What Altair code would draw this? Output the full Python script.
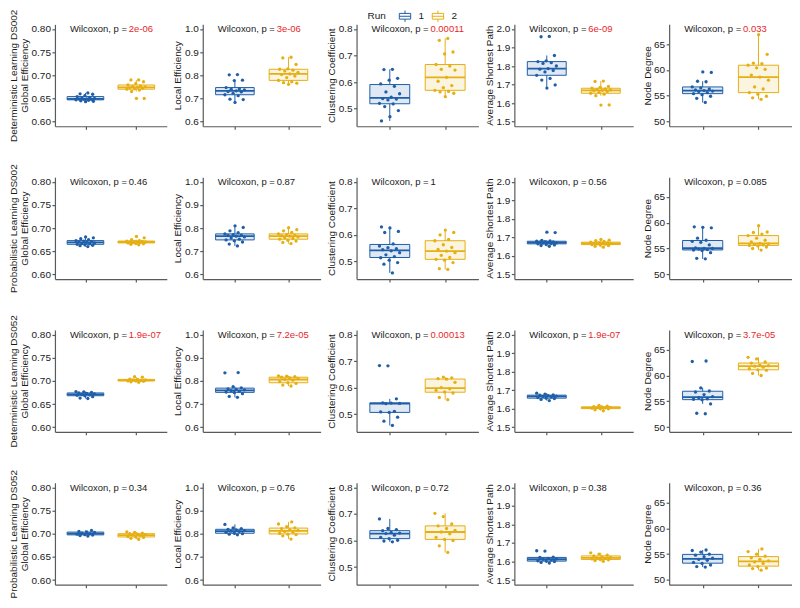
import altair as alt
import pandas as pd

ROWS = ["Deterministic Learning DS002", "Probabilistic Learning DS002",
        "Deterministic Learning DS052", "Probabilistic Learning DS052"]
METRICS = ["Global Efficiency", "Local Efficiency", "Clustering Coefficient",
           "Average Shortest Path", "Node Degree"]
RUNS = ["1", "2"]
COLORS = ["#1F5FA9", "#E6AF14"]
RED = "#E8262A"

# y-axis settings per metric
Y_DOMAINS = [[0.59, 0.81], [0.58, 1.02], [0.434, 0.817], [1.475, 2.025], [49.1, 68.8]]
Y_TICKS = [[0.60, 0.65, 0.70, 0.75, 0.80], [0.6, 0.7, 0.8, 0.9, 1.0],
           [0.5, 0.6, 0.7, 0.8], [1.5, 1.6, 1.7, 1.8, 1.9, 2.0], [50, 55, 60, 65]]
Y_FORMATS = [".2f", ".1f", ".1f", ".1f", "d"]

# ---- Deterministic Learning DS002 ----
det002_ge_1 = [0.662, 0.660, 0.659, 0.656, 0.654, 0.652, 0.651, 0.650, 0.649, 0.649, 0.648, 0.648, 0.647, 0.646, 0.645, 0.644, 0.643]
det002_ge_2 = [0.690, 0.690, 0.686, 0.682, 0.679, 0.677, 0.676, 0.675, 0.674, 0.673, 0.672, 0.671, 0.670, 0.668, 0.665, 0.650, 0.650]
det002_le_1 = [0.803, 0.802, 0.779, 0.777, 0.747, 0.742, 0.740, 0.737, 0.733, 0.730, 0.728, 0.722, 0.716, 0.712, 0.697, 0.695, 0.683]
det002_le_2 = [0.878, 0.875, 0.847, 0.828, 0.826, 0.822, 0.818, 0.812, 0.806, 0.803, 0.797, 0.790, 0.778, 0.772, 0.768, 0.766, 0.761]
det002_cc_1 = [0.648, 0.647, 0.614, 0.607, 0.593, 0.584, 0.563, 0.556, 0.543, 0.538, 0.536, 0.533, 0.520, 0.518, 0.508, 0.493, 0.470, 0.454]
det002_cc_2 = [0.764, 0.757, 0.713, 0.706, 0.666, 0.660, 0.648, 0.645, 0.618, 0.603, 0.587, 0.579, 0.569, 0.565, 0.563, 0.558, 0.545]
det002_asp_1 = [1.960, 1.958, 1.857, 1.828, 1.824, 1.818, 1.814, 1.800, 1.786, 1.783, 1.776, 1.768, 1.750, 1.733, 1.724, 1.698, 1.681]
det002_asp_2 = [1.719, 1.717, 1.690, 1.685, 1.680, 1.676, 1.674, 1.671, 1.669, 1.667, 1.663, 1.658, 1.653, 1.648, 1.640, 1.590, 1.589]
det002_nd_1 = [53.7, 54.5, 54.9, 55.2, 55.4, 55.6, 55.8, 55.9, 56.0, 56.1, 56.3, 56.5, 56.7, 57.7, 57.8, 59.5, 59.6]
det002_nd_2 = [54.3, 54.6, 54.9, 55.3, 55.6, 56.3, 56.7, 58.0, 58.6, 59.0, 60.1, 60.4, 60.9, 61.2, 61.3, 63.0, 66.8]
det002_p = ["2e-06", "3e-06", "0.00011", "6e-09", "0.033"]

# ---- Probabilistic Learning DS002 ----
prob002_ge_1 = [0.660, 0.662, 0.663, 0.664, 0.665, 0.666, 0.667, 0.668, 0.669, 0.670, 0.671, 0.672, 0.673, 0.675, 0.677, 0.679, 0.681]
prob002_ge_2 = [0.664, 0.665, 0.666, 0.667, 0.668, 0.669, 0.669, 0.670, 0.670, 0.670, 0.671, 0.671, 0.672, 0.673, 0.675, 0.679, 0.682]
prob002_le_1 = [0.723, 0.731, 0.740, 0.745, 0.749, 0.752, 0.757, 0.762, 0.765, 0.768, 0.770, 0.772, 0.775, 0.780, 0.788, 0.803, 0.810]
prob002_le_2 = [0.733, 0.738, 0.744, 0.748, 0.752, 0.755, 0.758, 0.762, 0.765, 0.767, 0.769, 0.772, 0.775, 0.781, 0.788, 0.793, 0.802]
prob002_cc_1 = [0.457, 0.490, 0.496, 0.505, 0.514, 0.518, 0.525, 0.533, 0.540, 0.544, 0.548, 0.552, 0.558, 0.566, 0.609, 0.613, 0.626, 0.630]
prob002_cc_2 = [0.470, 0.473, 0.496, 0.505, 0.508, 0.515, 0.523, 0.533, 0.539, 0.545, 0.553, 0.563, 0.578, 0.583, 0.600, 0.609, 0.618]
prob002_asp_1 = [1.652, 1.656, 1.659, 1.662, 1.665, 1.667, 1.669, 1.670, 1.672, 1.674, 1.675, 1.677, 1.679, 1.681, 1.684, 1.726, 1.728]
prob002_asp_2 = [1.647, 1.652, 1.656, 1.659, 1.661, 1.663, 1.665, 1.666, 1.667, 1.668, 1.670, 1.672, 1.674, 1.678, 1.682, 1.685, 1.689]
prob002_nd_1 = [53.0, 53.1, 54.2, 54.6, 54.7, 54.8, 54.9, 55.0, 55.0, 55.1, 55.7, 56.2, 56.4, 56.6, 57.0, 59.0, 59.1, 59.2]
prob002_nd_2 = [54.7, 55.0, 55.3, 55.5, 55.6, 55.7, 55.8, 55.9, 56.0, 56.3, 56.6, 57.0, 57.5, 57.8, 58.1, 58.2, 59.4]
prob002_p = ["0.46", "0.87", "1", "0.56", "0.085"]

# ---- Deterministic Learning DS052 ----
det052_ge_1 = [0.662, 0.663, 0.666, 0.668, 0.669, 0.670, 0.671, 0.672, 0.673, 0.674, 0.675, 0.676, 0.677]
det052_ge_2 = [0.697, 0.698, 0.699, 0.700, 0.700, 0.701, 0.702, 0.702, 0.703, 0.704, 0.708, 0.709]
det052_le_1 = [0.729, 0.733, 0.745, 0.750, 0.752, 0.755, 0.758, 0.761, 0.763, 0.765, 0.770, 0.775, 0.835, 0.836]
det052_le_2 = [0.778, 0.782, 0.789, 0.792, 0.797, 0.803, 0.806, 0.810, 0.813, 0.816, 0.818, 0.820, 0.822]
det052_cc_1 = [0.458, 0.474, 0.489, 0.507, 0.509, 0.511, 0.540, 0.541, 0.542, 0.543, 0.558, 0.682, 0.683]
det052_cc_2 = [0.555, 0.563, 0.580, 0.584, 0.590, 0.596, 0.600, 0.620, 0.632, 0.634, 0.637, 0.640]
det052_asp_1 = [1.644, 1.650, 1.655, 1.657, 1.660, 1.663, 1.666, 1.668, 1.670, 1.673, 1.675, 1.679, 1.684]
det052_asp_2 = [1.589, 1.594, 1.599, 1.601, 1.603, 1.605, 1.606, 1.607, 1.609, 1.611, 1.614, 1.618]
det052_nd_1 = [52.6, 52.7, 54.5, 55.3, 55.4, 55.5, 55.7, 55.9, 56.3, 56.8, 57.0, 57.6, 62.7, 62.8]
det052_nd_2 = [60.0, 60.4, 61.0, 61.1, 61.3, 61.6, 61.8, 61.9, 62.0, 62.4, 62.6, 63.2, 63.5]
det052_p = ["1.9e-07", "7.2e-05", "0.00013", "1.9e-07", "3.7e-05"]

# ---- Probabilistic Learning DS052 ----
prob052_ge_1 = [0.695, 0.696, 0.697, 0.698, 0.699, 0.700, 0.701, 0.703, 0.704, 0.705, 0.707]
prob052_ge_2 = [0.688, 0.690, 0.692, 0.693, 0.694, 0.696, 0.697, 0.698, 0.699, 0.700, 0.701, 0.703, 0.704]
prob052_le_1 = [0.795, 0.798, 0.800, 0.802, 0.806, 0.809, 0.811, 0.813, 0.816, 0.819, 0.822, 0.825, 0.840]
prob052_le_2 = [0.777, 0.791, 0.796, 0.798, 0.802, 0.806, 0.810, 0.814, 0.818, 0.822, 0.825, 0.830, 0.842, 0.851]
prob052_cc_1 = [0.595, 0.598, 0.601, 0.607, 0.612, 0.620, 0.626, 0.628, 0.630, 0.637, 0.641, 0.645, 0.681]
prob052_cc_2 = [0.555, 0.580, 0.600, 0.604, 0.612, 0.625, 0.632, 0.638, 0.645, 0.655, 0.662, 0.690, 0.702]
prob052_asp_1 = [1.592, 1.595, 1.600, 1.602, 1.604, 1.608, 1.612, 1.614, 1.616, 1.622, 1.624, 1.656, 1.658]
prob052_asp_2 = [1.601, 1.605, 1.609, 1.611, 1.614, 1.617, 1.620, 1.622, 1.625, 1.630, 1.634, 1.640, 1.647]
prob052_nd_1 = [52.5, 52.6, 52.9, 53.2, 53.4, 53.8, 54.0, 54.2, 54.5, 54.8, 55.0, 55.4, 55.7, 55.8]
prob052_nd_2 = [51.9, 52.2, 52.3, 52.6, 52.9, 53.2, 53.5, 53.7, 54.0, 54.3, 54.6, 55.0, 55.5, 56.0]
prob052_p = ["0.34", "0.76", "0.72", "0.38", "0.36"]

SERIES = [
    [(det002_ge_1, det002_ge_2), (det002_le_1, det002_le_2), (det002_cc_1, det002_cc_2),
     (det002_asp_1, det002_asp_2), (det002_nd_1, det002_nd_2)],
    [(prob002_ge_1, prob002_ge_2), (prob002_le_1, prob002_le_2), (prob002_cc_1, prob002_cc_2),
     (prob002_asp_1, prob002_asp_2), (prob002_nd_1, prob002_nd_2)],
    [(det052_ge_1, det052_ge_2), (det052_le_1, det052_le_2), (det052_cc_1, det052_cc_2),
     (det052_asp_1, det052_asp_2), (det052_nd_1, det052_nd_2)],
    [(prob052_ge_1, prob052_ge_2), (prob052_le_1, prob052_le_2), (prob052_cc_1, prob052_cc_2),
     (prob052_asp_1, prob052_asp_2), (prob052_nd_1, prob052_nd_2)],
]
PVALUES = [det002_p, prob002_p, det052_p, prob052_p]

COL_WIDTHS = [112, 118, 122, 119, 123]
PANEL_H = 102
FONT = "Liberation Sans"

color_scale = alt.Scale(domain=RUNS, range=COLORS)
LEGEND = alt.Legend(
    title="Run", orient="none", direction="horizontal", titleOrient="left",
    legendX=11, legendY=-15, symbolType="M-1,-0.5H1V0.5H-1Z M-1,0H1 M0,-0.5V-1 M0,0.5V1",
    symbolSize=130, symbolStrokeWidth=1, labelFontSize=10, titleFontSize=10,
    titleFontWeight="normal", titlePadding=12, columnPadding=5, labelOffset=7,
)


def panel(ri, mi):
    v1, v2 = SERIES[ri][mi]
    df = pd.DataFrame({
        "run": [1] * len(v1) + [2] * len(v2),
        "runs": ["1"] * len(v1) + ["2"] * len(v2),
        "value": list(v1) + list(v2),
    })
    ptxt = PVALUES[ri][mi]
    sig = float(ptxt) < 0.05
    ann = pd.DataFrame({"p": [ptxt]})

    xs = alt.Scale(domain=[0.4, 2.6], nice=False, zero=False)
    ys = alt.Scale(domain=Y_DOMAINS[mi], nice=False, zero=False)
    title = [ROWS[ri], METRICS[mi]] if mi == 0 else METRICS[mi]
    yaxis = alt.Axis(title=title, values=Y_TICKS[mi], format=Y_FORMATS[mi], grid=False,
                     labelOverlap=False, labelBound=False)
    xaxis = alt.Axis(values=[1, 2], labels=False, title=None, grid=False)

    base = alt.Chart(df)
    stats = base.transform_aggregate(
        q1="q1(value)", med="median(value)", q3="q3(value)", groupby=["run", "runs"]
    ).transform_calculate(xl="datum.run - 0.36", xr="datum.run + 0.36")

    box_fill = stats.mark_rect(fillOpacity=0.14, strokeWidth=0).encode(
        x=alt.X("xl:Q", scale=xs, axis=xaxis), x2="xr:Q",
        y=alt.Y("q1:Q", scale=ys, axis=yaxis), y2="q3:Q",
        fill=alt.Fill("runs:N", scale=color_scale, legend=None),
    )
    legend = LEGEND if (ri == 0 and mi == 2) else None
    box_line = stats.mark_rect(filled=False, strokeWidth=1).encode(
        x=alt.X("xl:Q", scale=xs, axis=xaxis), x2="xr:Q",
        y=alt.Y("q1:Q", scale=ys, axis=yaxis), y2="q3:Q",
        stroke=alt.Stroke("runs:N", scale=color_scale, legend=legend),
    )
    median = stats.mark_rule(strokeWidth=1.8).encode(
        x=alt.X("xl:Q", scale=xs, axis=xaxis), x2="xr:Q",
        y=alt.Y("med:Q", scale=ys, axis=yaxis),
        color=alt.Color("runs:N", scale=color_scale, legend=None),
    )
    wh = base.transform_joinaggregate(
        q1="q1(value)", q3="q3(value)", groupby=["run", "runs"]
    ).transform_calculate(
        lo="datum.q1 - 1.5 * (datum.q3 - datum.q1)",
        hi="datum.q3 + 1.5 * (datum.q3 - datum.q1)",
    ).transform_filter(
        "datum.value >= datum.lo && datum.value <= datum.hi"
    ).transform_aggregate(
        wmin="min(value)", wmax="max(value)", bq1="max(q1)", bq3="max(q3)", groupby=["run", "runs"]
    )
    wlo = wh.mark_rule(strokeWidth=1).encode(
        x=alt.X("run:Q", scale=xs, axis=xaxis), y=alt.Y("wmin:Q", scale=ys, axis=yaxis), y2="bq1:Q",
        color=alt.Color("runs:N", scale=color_scale, legend=None),
    )
    whi = wh.mark_rule(strokeWidth=1).encode(
        x=alt.X("run:Q", scale=xs, axis=xaxis), y=alt.Y("bq3:Q", scale=ys, axis=yaxis), y2="wmax:Q",
        color=alt.Color("runs:N", scale=color_scale, legend=None),
    )
    pts = base.transform_window(
        idx="row_number()", groupby=["run"]
    ).transform_calculate(
        xp="datum.run + ((datum.idx * 0.618034) % 1 - 0.5) * 0.4"
    ).mark_circle(size=11, opacity=1).encode(
        x=alt.X("xp:Q", scale=xs, axis=xaxis), y=alt.Y("value:Q", scale=ys, axis=yaxis),
        color=alt.Color("runs:N", scale=color_scale, legend=None),
    )
    t1 = alt.Chart(ann).mark_text(
        align="left", baseline="middle", fontSize=9.5, font=FONT, color="#1a1a1a"
    ).encode(x=alt.value(15), y=alt.value(5), text=alt.value("Wilcoxon, p ="))
    t2 = alt.Chart(ann).mark_text(
        align="left", baseline="middle", fontSize=9.5, font=FONT,
        color=RED if sig else "#1a1a1a"
    ).encode(x=alt.value(74), y=alt.value(5), text="p:N")

    return alt.layer(box_fill, wlo, whi, box_line, median, pts, t1, t2).properties(
        width=COL_WIDTHS[mi], height=PANEL_H
    )


panels = [panel(ri, mi) for ri in range(4) for mi in range(5)]

chart = alt.concat(
    *panels, columns=5, spacing={"row": 51, "column": 36}, bounds="flush"
).resolve_scale(stroke="independent").resolve_legend(stroke="independent").properties(
    padding={"left": 0, "top": 0, "right": 0, "bottom": 0},
    background="white",
).configure_view(stroke=None).configure_axis(
    domainColor="#5a5a5a", domainWidth=1.2, tickColor="#5a5a5a", tickWidth=1.2,
    tickSize=3, labelColor="#1a1a1a", titleColor="#1a1a1a", labelFont=FONT,
    titleFont=FONT, labelFontSize=10, titleFontSize=10, titleFontWeight="normal",
    labelPadding=1.5, titlePadding=1.5, titleLineHeight=11, labelOverlap=False,
).configure_axisY(labelOverlap=False).configure_legend(
    labelFont=FONT, titleFont=FONT, labelColor="#1a1a1a", titleColor="#1a1a1a"
)

chart.save("out.html", embed_options={"renderer": "svg", "actions": False})
